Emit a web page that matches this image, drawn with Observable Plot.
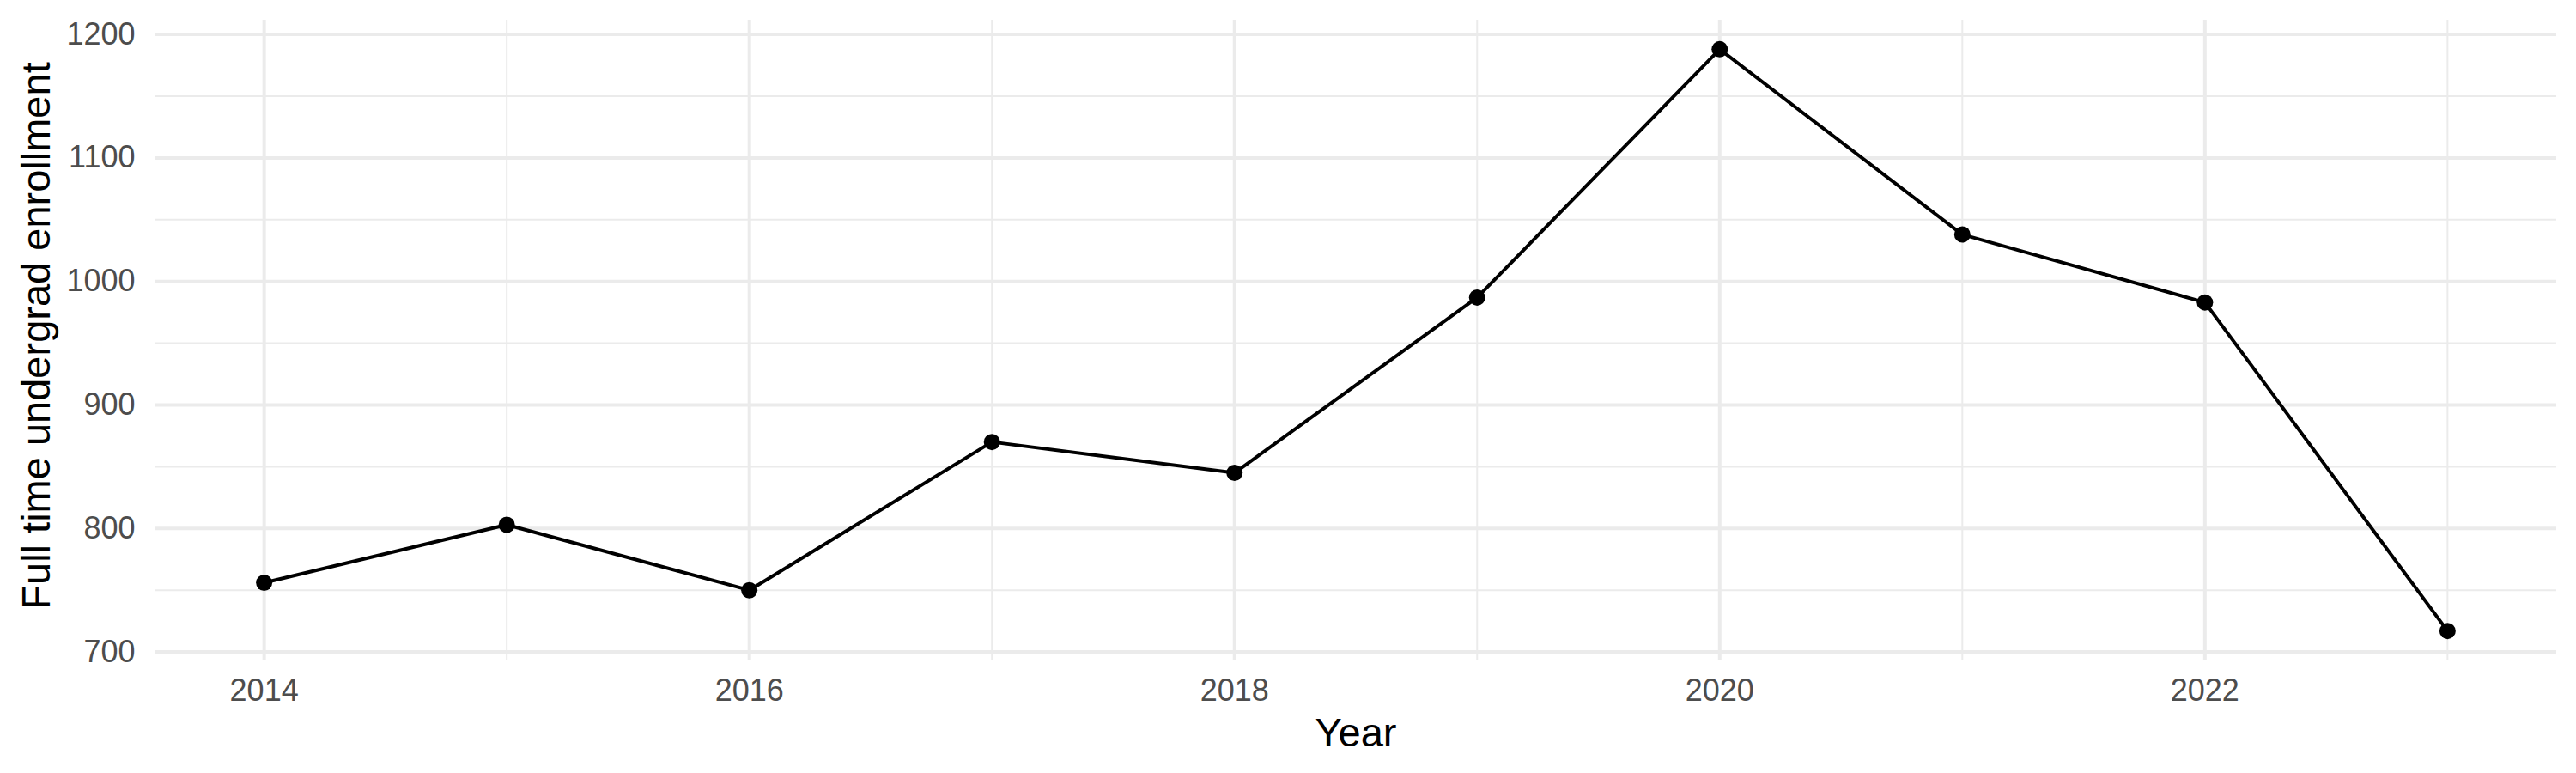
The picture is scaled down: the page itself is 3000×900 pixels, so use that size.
<!DOCTYPE html>
<html>
<head>
<meta charset="utf-8">
<script src="https://cdn.jsdelivr.net/npm/d3@7"></script>
<script src="https://cdn.jsdelivr.net/npm/@observablehq/plot@0.6"></script>
<style>
  html, body { margin: 0; padding: 0; background: #ffffff; }
  #chart svg { display: block; }
</style>
</head>
<body>
<div id="chart"></div>
<script>
const years = [2014, 2015, 2016, 2017, 2018, 2019, 2020, 2021, 2022, 2023];
const enrollment = [756, 803, 750, 870, 845, 987, 1188, 1038, 983, 717];

const xMajorTicks = [2014, 2016, 2018, 2020, 2022];
const xMinorTicks = [2015, 2017, 2019, 2021, 2023];
const yMajorTicks = [700, 800, 900, 1000, 1100, 1200];
const yMinorTicks = [750, 850, 950, 1050, 1150];

const xTitle = "Year";
const yTitle = "Full time undergrad enrollment";

const data = years.map((y, i) => ({year: y, value: enrollment[i]}));

// ggplot-style 5% expansion
const xExt = d3.extent(years), yExt = d3.extent(enrollment);
const xPad = (xExt[1] - xExt[0]) * 0.05, yPad = (yExt[1] - yExt[0]) * 0.05;

const font = "'Liberation Sans', Arial, Helvetica, sans-serif";
const grid = "#ebebeb";

const chart = Plot.plot({
  width: 3000,
  height: 900,
  marginLeft: 180,
  marginRight: 23,
  marginTop: 23,
  marginBottom: 132,
  style: {fontFamily: font, background: "#ffffff"},
  x: {type: "linear", domain: [xExt[0] - xPad, xExt[1] + xPad]},
  y: {type: "linear", domain: [yExt[0] - yPad, yExt[1] + yPad]},
  marks: [
    Plot.ruleY(yMinorTicks, {stroke: grid, strokeWidth: 2}),
    Plot.ruleX(xMinorTicks, {stroke: grid, strokeWidth: 2}),
    Plot.ruleY(yMajorTicks, {stroke: grid, strokeWidth: 4}),
    Plot.ruleX(xMajorTicks, {stroke: grid, strokeWidth: 4}),
    Plot.axisX({ticks: xMajorTicks, tickSize: 0, tickPadding: 22, tickFormat: d => String(d),
      fontSize: 36, fill: "#4d4d4d", label: null}),
    Plot.axisY({ticks: yMajorTicks, tickSize: 0, tickPadding: 23, tickFormat: d => String(d),
      fontSize: 36, fill: "#4d4d4d", label: null}),
    Plot.line(data, {x: "year", y: "value", stroke: "#000000", strokeWidth: 4}),
    Plot.dot(data, {x: "year", y: "value", r: 9.5, fill: "#000000", stroke: "none"}),
    Plot.text([xTitle], {frameAnchor: "bottom", lineAnchor: "bottom", dy: 100,
      fontSize: 47, fill: "#000000", text: d => d}),
    Plot.text([yTitle], {frameAnchor: "left", textAnchor: "middle", lineAnchor: "bottom", rotate: -90, dx: -123, dy: -5,
      fontSize: 47, fill: "#000000", text: d => d})
  ]
});
document.getElementById("chart").appendChild(chart);
</script>
</body>
</html>
